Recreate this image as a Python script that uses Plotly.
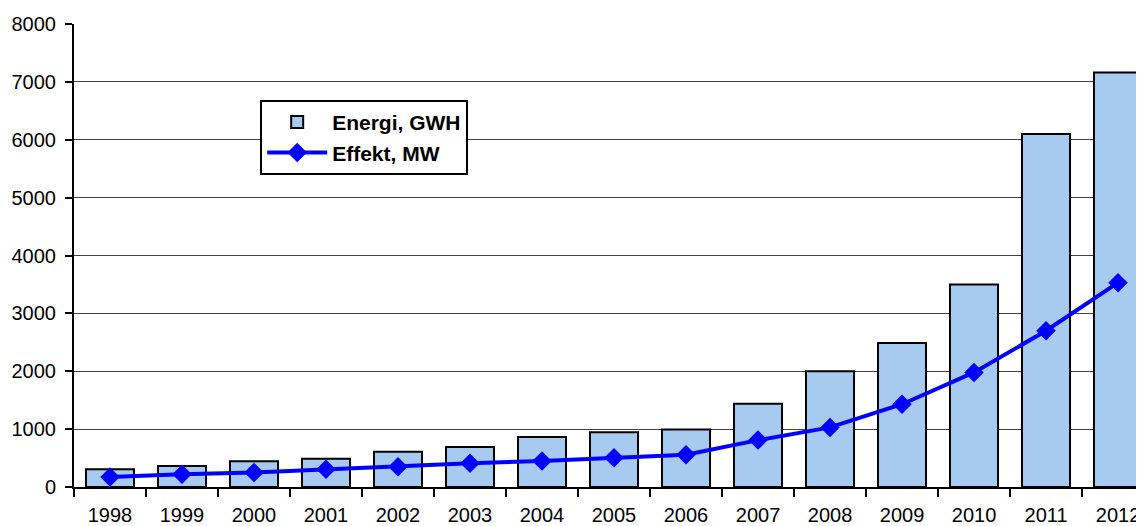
import plotly.graph_objects as go

years = ["1998", "1999", "2000", "2001", "2002", "2003", "2004", "2005",
         "2006", "2007", "2008", "2009", "2010", "2011", "2012"]
energi_gwh = [305, 365, 445, 490, 610, 690, 865, 948, 993, 1440, 2000, 2490, 3500, 6100, 7160]
effekt_mw = [174, 221, 250, 308, 350, 410, 450, 505, 557, 810, 1030, 1430, 1980, 2700, 3530]
y_ticks = [0, 1000, 2000, 3000, 4000, 5000, 6000, 7000, 8000]

font_family = "Liberation Sans, Arial, sans-serif"

fig = go.Figure()
fig.add_trace(go.Bar(
    x=years, y=energi_gwh, name="Energi, GWH",
    marker=dict(color="#A6CAF0", line=dict(color="black", width=2)),
))
fig.add_trace(go.Scatter(
    x=years, y=effekt_mw, name="Effekt, MW", mode="lines+markers",
    line=dict(color="#0000FF", width=4),
    marker=dict(symbol="diamond", size=15, color="#0000FF"),
))

fig.update_layout(
    width=1136, height=518,
    margin=dict(l=66, r=0, t=16, b=39, autoexpand=False),
    paper_bgcolor="white", plot_bgcolor="white",
    font=dict(family=font_family, size=20, color="black"),
    bargap=0.333,
    showlegend=True,
    legend=dict(
        x=0.174, y=0.836, xanchor="left", yanchor="top",
        bgcolor="white", bordercolor="black", borderwidth=2,
        font=dict(family=font_family, size=21, color="black", weight="bold"),
        itemwidth=60, tracegroupgap=0,
    ),
)
fig.update_xaxes(
    type="category", range=[-0.5, 14.361], automargin=False,
    showline=True, linecolor="black", linewidth=2,
    ticks="outside", tickson="boundaries", ticklen=8, tickwidth=2, tickcolor="black",
    ticklabelstandoff=9,
    showgrid=False, tickfont=dict(size=20),
)
fig.update_yaxes(
    range=[0, 8000], tickvals=y_ticks, automargin=False,
    showline=True, linecolor="black", linewidth=2,
    ticks="outside", ticklen=7, tickwidth=2, tickcolor="black",
    ticklabelstandoff=5,
    showgrid=True, gridcolor="#404040", gridwidth=1,
    zeroline=False, tickfont=dict(size=20),
)

fig.write_html("out.html")
